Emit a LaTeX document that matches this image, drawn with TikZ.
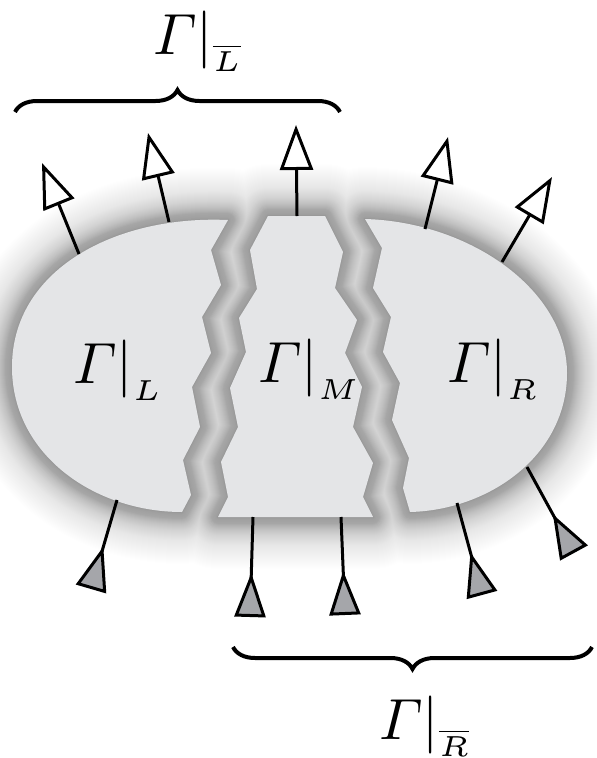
\documentclass[tikz,border=0pt]{standalone}
\usepackage{amsmath}
\usetikzlibrary{arrows.meta,decorations.pathreplacing}
\definecolor{piecefill}{RGB}{228,229,231}
\definecolor{tipgray}{RGB}{165,166,170}
\begin{document}
\begin{tikzpicture}[x=1pt,y=-1pt,
  outarr/.style={line width=3pt,-{Triangle[length=45pt,width=33pt,fill=white,line width=3pt]}},
  inarr/.style={line width=3pt,-{Triangle[reversed,length=44pt,width=31pt,fill=tipgray,line width=3pt]}},
  bracestyle/.style={decorate,decoration={brace,amplitude=22pt},line width=4pt},
  lbl/.style={scale=5.8,inner sep=0pt,anchor=base west}]
\useasboundingbox (0,0) rectangle (597,758);
\def\pieceL{(228,220) -- (211,250) -- (221,285) -- (202,317) -- (211,353) -- (192,387) -- (200,427) -- (183,460) -- (191,495) -- (182,512) .. controls (95,512) and (12,455) .. (12,367) .. controls (12,270) and (115,215) .. (228,220) -- cycle}
\def\pieceM{(268,216) -- (325,216) -- (343,252) -- (335,288) -- (357,320) -- (345,353) -- (362,387) -- (353,427) -- (373,463) -- (363,497) -- (373,517) -- (218,517) -- (228,497) -- (221,462) -- (238,427) -- (230,388) -- (246,352) -- (239,318) -- (257,289) -- (250,250) -- cycle}
\def\pieceR{(365,219) .. controls (470,222) and (567,290) .. (567,373) .. controls (567,455) and (490,510) .. (410,512) -- (403,488) -- (409,458) -- (392,420) -- (400,383) -- (383,352) -- (391,317) -- (373,288) -- (382,248) -- cycle}
% soft shadow of the whole group (one path, so no double darkening)
\foreach \h in {1,...,70}{
  \pgfmathsetmacro\al{1-(1-0.40*(exp(-(\h-1)/22)-exp(-70/22))/(1-exp(-70/22)))/(1-0.40*(exp(-\h/22)-exp(-70/22))/(1-exp(-70/22)))}
  \pgfmathsetmacro\lw{2*\h}
  \draw[line width=\lw pt,draw=black,opacity=\al,line join=round] \pieceL \pieceM \pieceR;
}
\fill[piecefill] \pieceL;
\fill[piecefill] \pieceM;
\fill[piecefill] \pieceR;
% labels
\node[lbl] (gL) at (65,383) {$\left.\varGamma\right|_{\scriptscriptstyle L}$};
\node[lbl] (gM) at (250,382) {$\left.\varGamma\right|_{\scriptscriptstyle M}$};
\node[lbl] (gR) at (439,382) {$\left.\varGamma\right|_{\scriptscriptstyle R}$};
\node[lbl] (gLb) at (145,54) {$\left.\varGamma\right|_{\smash{\scriptscriptstyle \overline{L}}}$};
\node[lbl] (gRb) at (371,739) {$\left.\varGamma\right|_{\smash{\scriptscriptstyle \overline{R}}}$};
% outgoing arrows
\coordinate (t1s) at (79,254); \coordinate (t1e) at (42,163);
\coordinate (t2s) at (169,222); \coordinate (t2e) at (148,133);
\coordinate (t3s) at (297,216); \coordinate (t3e) at (296,125);
\coordinate (t4s) at (425,229); \coordinate (t4e) at (448,137);
\coordinate (t5s) at (502,262); \coordinate (t5e) at (552,177);
\draw[outarr] (t1s) -- (t1e);
\draw[outarr] (t2s) -- (t2e);
\draw[outarr] (t3s) -- (t3e);
\draw[outarr] (t4s) -- (t4e);
\draw[outarr] (t5s) -- (t5e);
% incoming arrows
\coordinate (b1s) at (117,500); \coordinate (b1e) at (91,589);
\coordinate (b2s) at (253,517); \coordinate (b2e) at (250,617);
\coordinate (b3s) at (341,517); \coordinate (b3e) at (345,615);
\coordinate (b4s) at (457,503); \coordinate (b4e) at (482,595);
\coordinate (b5s) at (527,467); \coordinate (b5e) at (574,553);
\draw[inarr] (b1s) -- (b1e);
\draw[inarr] (b2s) -- (b2e);
\draw[inarr] (b3s) -- (b3e);
\draw[inarr] (b4s) -- (b4e);
\draw[inarr] (b5s) -- (b5e);
% braces
\coordinate (bt1) at (15,112); \coordinate (bt2) at (340,112);
\coordinate (bb1) at (592,647); \coordinate (bb2) at (233,647);
\draw[bracestyle] (bt1) -- (bt2);
\draw[bracestyle] (bb1) -- (bb2);
\end{tikzpicture}
\end{document}
